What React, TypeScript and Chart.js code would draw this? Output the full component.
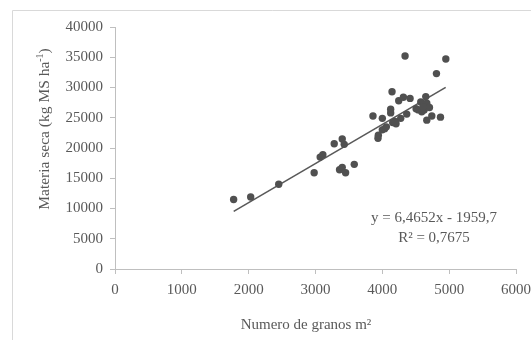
import React, { useEffect, useRef } from "react";
import { Chart, registerables } from "chart.js";

Chart.register(...registerables);

// Scatter data: Numero de granos m² (x) vs Materia seca kg MS ha-1 (y)
const granos: number[] = [
  1775, 2030, 2450, 2980, 3070, 3110, 3280, 3400, 3430, 3360, 3400, 3450, 3580,
  3860, 3935, 3940, 4000, 4000, 4035, 4145, 4125, 4125, 4155, 4205, 4245, 4275,
  4315, 4340, 4365, 4415, 4505, 4540, 4575, 4590, 4625, 4650, 4665, 4705, 4665,
  4740, 4810, 4870, 4950, 4060, 4190, 4610,
];
const materia: number[] = [
  11500, 11900, 14000, 15900, 18500, 18900, 20700, 21500, 20600, 16400, 16800,
  15900, 17300, 25300, 21600, 22100, 24900, 23000, 23200, 29300, 26400, 25800,
  24200, 24000, 27800, 24900, 28400, 35200, 25600, 28200, 26500, 26300, 27600,
  26000, 26300, 28500, 27400, 26700, 24600, 25300, 32300, 25100, 34700, 23500,
  24400, 26800,
];

// Linear trendline endpoints (y = 6,4652x - 1959,7)
const trendX: number[] = [1776, 4948];
const trendY: number[] = [9522, 30030];

const xTicks: number[] = [0, 1000, 2000, 3000, 4000, 5000, 6000];
const yTicks: number[] = [0, 5000, 10000, 15000, 20000, 25000, 30000, 35000, 40000];

const equationLine = "y = 6,4652x - 1959,7";
const r2Line = "R² = 0,7675";
const xTitle = "Numero de granos m²";
const yTitleMain = "Materia seca (kg MS ha";
const yTitleSup = "-1";
const yTitleEnd = ")";

const FONT = "'Liberation Serif', 'Times New Roman', serif";
const TEXT = "#595959";
const AXIS = "#bfbfbf";

export default function App() {
  const ref = useRef<HTMLCanvasElement | null>(null);

  useEffect(() => {
    if (!ref.current) return;
    const textPlugin = {
      id: "textPlugin",
      afterDraw(chart: any) {
        const ctx = chart.ctx as CanvasRenderingContext2D;
        ctx.save();
        // frame
        ctx.strokeStyle = "#d9d9d9";
        ctx.lineWidth = 1;
        ctx.beginPath();
        ctx.moveTo(12.5, 400);
        ctx.lineTo(12.5, 10.5);
        ctx.lineTo(600, 10.5);
        ctx.stroke();

        ctx.fillStyle = TEXT;
        ctx.textBaseline = "middle";
        // x title
        ctx.font = `15px ${FONT}`;
        ctx.textAlign = "center";
        ctx.fillText(xTitle, 306, 325);

        // equation
        ctx.fillText(equationLine, 434, 218);
        ctx.fillText(r2Line, 434, 238);

        // y title
        ctx.translate(45, 129);
        ctx.rotate(-Math.PI / 2);
        ctx.textAlign = "left";
        const big = `15.5px ${FONT}`;
        const small = `10px ${FONT}`;
        ctx.font = big;
        const w1 = ctx.measureText(yTitleMain).width;
        ctx.font = small;
        const w2 = ctx.measureText(yTitleSup).width;
        ctx.font = big;
        const w3 = ctx.measureText(yTitleEnd).width;
        const total = w1 + w2 + w3;
        let x = -total / 2;
        ctx.fillText(yTitleMain, x, 0);
        x += w1;
        ctx.font = small;
        ctx.fillText(yTitleSup, x, -5);
        x += w2;
        ctx.font = big;
        ctx.fillText(yTitleEnd, x, 0);
        ctx.restore();
      },
    };

    const chart = new Chart(ref.current, {
      type: "scatter",
      data: {
        datasets: [
          {
            type: "line" as any,
            data: trendX.map((x, i) => ({ x, y: trendY[i] })),
            borderColor: "#595959",
            borderWidth: 1.6,
            pointRadius: 0,
            fill: false,
            order: 2,
          },
          {
            data: granos.map((x, i) => ({ x, y: materia[i] })),
            backgroundColor: "#505050",
            borderWidth: 0,
            pointRadius: 3.7,
            order: 1,
          },
        ],
      },
      options: {
        responsive: false,
        animation: false,
        devicePixelRatio: 1,
        layout: { padding: { top: 27, right: 15, left: 0, bottom: 0 } },
        plugins: {
          legend: { display: false },
          tooltip: { enabled: false },
        },
        scales: {
          x: {
            type: "linear",
            min: 0,
            max: 6000,
            afterBuildTicks: (s: any) => {
              s.ticks = xTicks.map((v) => ({ value: v }));
            },
            afterFit: (s: any) => {
              s.height = 71;
              s.paddingLeft = 0;
              s.paddingRight = 0;
            },
            ticks: {
              color: TEXT,
              font: { family: FONT, size: 15 },
              padding: 7,
              maxRotation: 0,
              callback: (v: any) => String(v),
            },
            grid: {
              drawOnChartArea: false,
              drawTicks: true,
              tickLength: 5,
              color: AXIS,
            },
            border: { color: AXIS, width: 1 },
          },
          y: {
            type: "linear",
            min: 0,
            max: 40000,
            afterBuildTicks: (s: any) => {
              s.ticks = yTicks.map((v) => ({ value: v }));
            },
            afterFit: (s: any) => {
              s.width = 115;
              s.paddingTop = 0;
              s.paddingBottom = 0;
            },
            ticks: {
              color: TEXT,
              font: { family: FONT, size: 15 },
              padding: 7,
              callback: (v: any) => String(v),
            },
            grid: {
              drawOnChartArea: false,
              drawTicks: true,
              tickLength: 5,
              color: AXIS,
            },
            border: { color: AXIS, width: 1 },
          },
        },
      },
      plugins: [textPlugin],
    });
    return () => chart.destroy();
  }, []);

  return (
    <div style={{ position: "fixed", left: 0, top: 0, width: 531, height: 340, background: "#fff" }}>
      <canvas ref={ref} width={531} height={340} style={{ display: "block" }} />
    </div>
  );
}
